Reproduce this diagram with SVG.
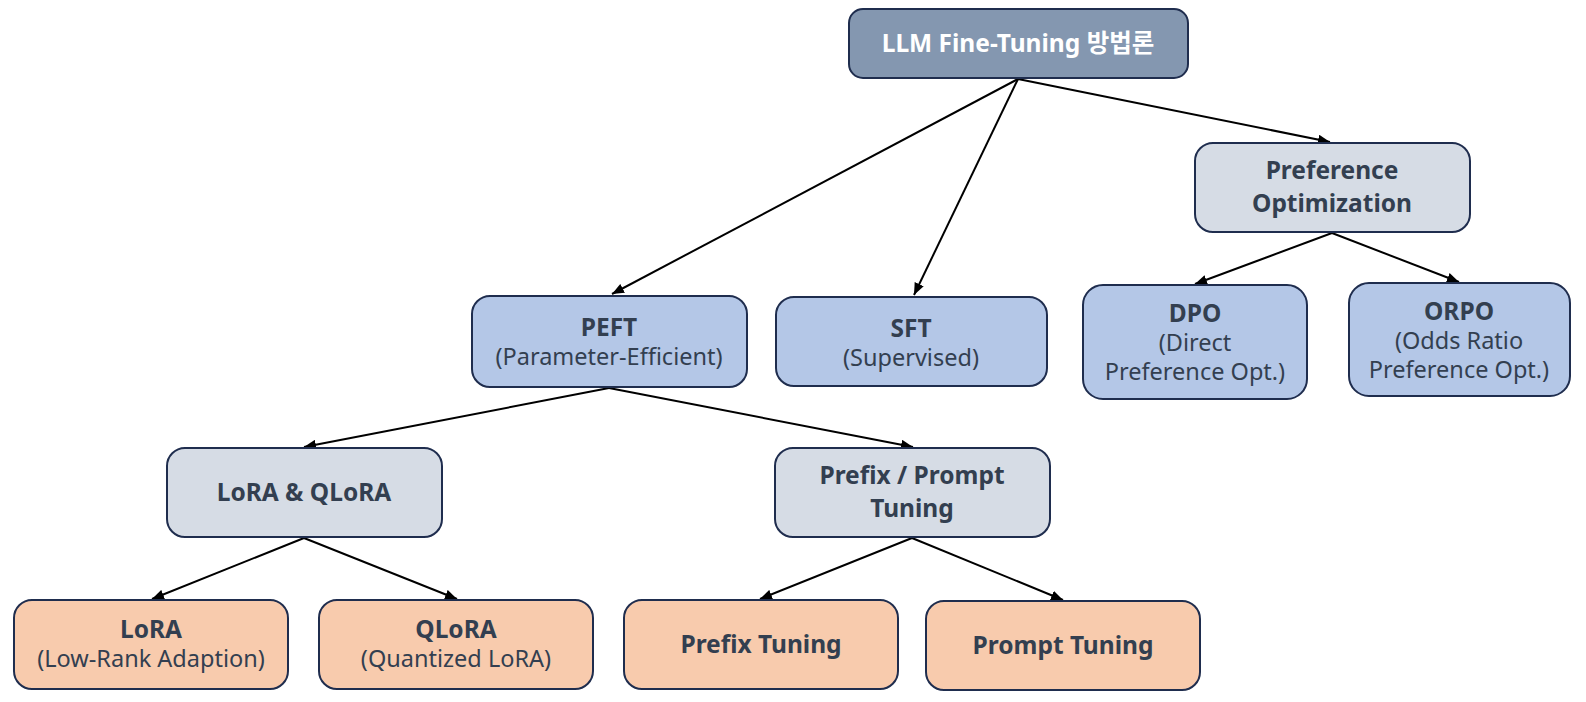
<svg xmlns="http://www.w3.org/2000/svg" width="1586" height="702" viewBox="0 0 1586 702">
<style>
.n{stroke:#1F2D4E;stroke-width:2}
.top{fill:#8497B0}
.g{fill:#D6DCE5}
.b{fill:#B4C7E7}
.p{fill:#F8CBAD}
text{font-family:"Noto Sans","Noto Sans CJK KR",sans-serif;font-size:23.5px;fill:#333F50;text-anchor:middle}
.t{font-weight:bold;font-size:24.5px}
.w{fill:#FFFFFF;font-weight:bold;font-size:24.5px}
.c{stroke:#000;stroke-width:2;fill:none;marker-end:url(#ah)}
</style>
<defs>
<marker id="ah" viewBox="0 0 12 10" refX="12" refY="5" markerWidth="12" markerHeight="10" markerUnits="userSpaceOnUse" orient="auto">
<path d="M0,0 L12,5 L0,10 z" fill="#000"/>
</marker>
</defs>
<rect width="1586" height="702" fill="#FFFFFF"/>
<g id="connectors">
<line class="c" x1="1018" y1="79" x2="612" y2="294"/>
<line class="c" x1="1018" y1="79" x2="914" y2="295"/>
<line class="c" x1="1018" y1="79" x2="1330" y2="142"/>
<line class="c" x1="1332" y1="233" x2="1195" y2="284"/>
<line class="c" x1="1332" y1="233" x2="1459" y2="282"/>
<line class="c" x1="609" y1="388" x2="304" y2="447"/>
<line class="c" x1="609" y1="388" x2="913" y2="447"/>
<line class="c" x1="304" y1="538" x2="152" y2="599"/>
<line class="c" x1="304" y1="538" x2="457" y2="599"/>
<line class="c" x1="912" y1="538" x2="760" y2="599"/>
<line class="c" x1="912" y1="538" x2="1063" y2="600"/>
</g>
<g id="root">
<rect class="n top" x="849" y="9" width="339" height="69" rx="14"/>
<text class="w" x="1018" y="52">LLM Fine-Tuning 방법론</text>
</g>
<g id="pref">
<rect class="n g" x="1195" y="143" width="275" height="89" rx="18"/>
<text class="t" x="1332" y="179">Preference</text>
<text class="t" x="1332" y="212">Optimization</text>
</g>
<g id="peft">
<rect class="n b" x="472" y="296" width="275" height="91" rx="18"/>
<text class="t" x="609" y="336">PEFT</text>
<text x="609" y="365">(Parameter-Efficient)</text>
</g>
<g id="sft">
<rect class="n b" x="776" y="297" width="271" height="89" rx="18"/>
<text class="t" x="911" y="337">SFT</text>
<text x="911" y="366">(Supervised)</text>
</g>
<g id="dpo">
<rect class="n b" x="1083" y="285" width="224" height="114" rx="20"/>
<text class="t" x="1195" y="322">DPO</text>
<text x="1195" y="351">(Direct</text>
<text x="1195" y="380">Preference Opt.)</text>
</g>
<g id="orpo">
<rect class="n b" x="1349" y="283" width="221" height="113" rx="20"/>
<text class="t" x="1459" y="320">ORPO</text>
<text x="1459" y="349">(Odds Ratio</text>
<text x="1459" y="378">Preference Opt.)</text>
</g>
<g id="loraq">
<rect class="n g" x="167" y="448" width="275" height="89" rx="18"/>
<text class="t" x="304" y="501">LoRA &amp; QLoRA</text>
</g>
<g id="prefix">
<rect class="n g" x="775" y="448" width="275" height="89" rx="18"/>
<text class="t" x="912" y="484">Prefix / Prompt</text>
<text class="t" x="912" y="517">Tuning</text>
</g>
<g id="lora">
<rect class="n p" x="14" y="600" width="274" height="89" rx="18"/>
<text class="t" x="151" y="638">LoRA</text>
<text x="151" y="667">(Low-Rank Adaption)</text>
</g>
<g id="qlora">
<rect class="n p" x="319" y="600" width="274" height="89" rx="18"/>
<text class="t" x="456" y="638">QLoRA</text>
<text x="456" y="667">(Quantized LoRA)</text>
</g>
<g id="prefixt">
<rect class="n p" x="624" y="600" width="274" height="89" rx="18"/>
<text class="t" x="761" y="653">Prefix Tuning</text>
</g>
<g id="promptt">
<rect class="n p" x="926" y="601" width="274" height="89" rx="18"/>
<text class="t" x="1063" y="654">Prompt Tuning</text>
</g>
</svg>
